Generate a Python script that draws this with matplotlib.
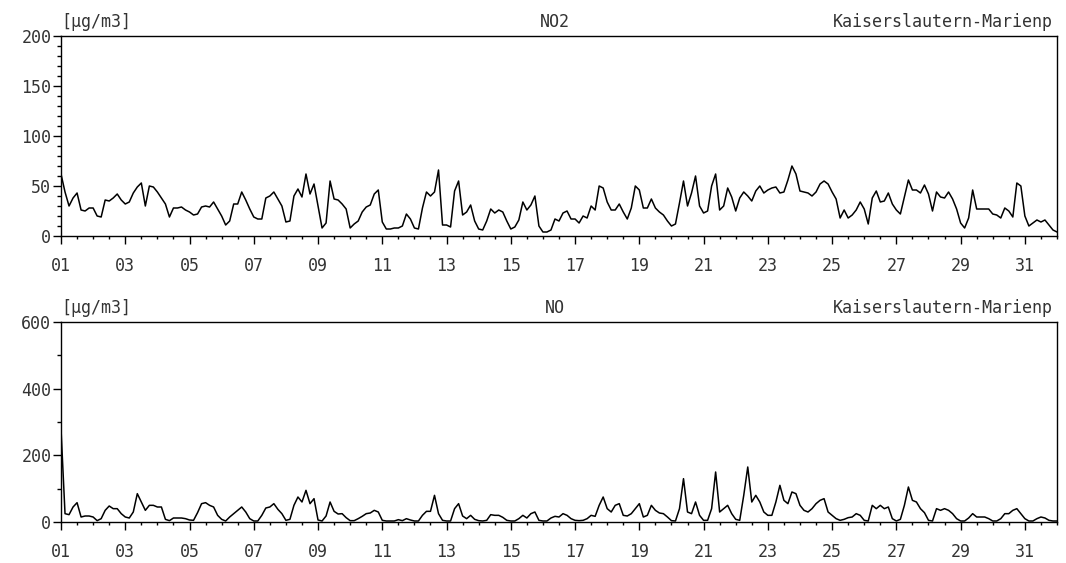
import matplotlib
matplotlib.use('Agg')
import matplotlib.pyplot as plt
from matplotlib.ticker import MultipleLocator, FixedLocator
import numpy as np

# 3-hourly values, one row per day (01..31) + end point
no2 = [
    62, 44, 30, 38, 43, 26, 25, 28,
    28, 20, 19, 36, 35, 38, 42, 36,
    32, 34, 43, 49, 53, 30, 50, 49,
    44, 38, 32, 19, 28, 28, 29, 26,
    24, 21, 22, 29, 30, 29, 34, 27,
    20, 11, 15, 32, 32, 44, 36, 27,
    19, 17, 17, 38, 40, 44, 37, 30,
    14, 15, 40, 47, 39, 62, 42, 52,
    30, 8, 13, 55, 37, 36, 32, 27,
    8, 12, 15, 24, 29, 31, 42, 46,
    14, 7, 7, 8, 8, 10, 22, 17,
    8, 7, 28, 44, 40, 44, 66, 11,
    11, 9, 45, 55, 21, 24, 31, 15,
    7, 6, 15, 27, 23, 26, 24, 15,
    7, 9, 16, 34, 26, 31, 40, 10,
    4, 4, 6, 17, 15, 23, 25, 17,
    17, 13, 20, 18, 30, 26, 50, 48,
    34, 26, 26, 32, 24, 17, 28, 50,
    46, 28, 28, 37, 28, 24, 21, 15,
    10, 12, 33, 55, 30, 43, 60, 30,
    23, 25, 50, 62, 26, 30, 48, 39,
    25, 38, 44, 40, 35, 45, 50, 43,
    46, 48, 49, 43, 44, 56, 70, 62,
    45, 44, 43, 40, 44, 52, 55, 52,
    44, 37, 18, 26, 18, 21, 26, 34,
    27, 12, 38, 45, 34, 35, 43, 32,
    26, 22, 39, 56, 46, 46, 43, 51,
    42, 25, 44, 39, 38, 44, 37, 27,
    13, 8, 18, 46, 27, 27, 27, 27,
    22, 21, 18, 28, 25, 19, 53, 50,
    20, 10, 13, 16, 14, 16, 11, 6,
    4,
]

no = [
    280, 25, 22, 45, 58, 15, 18, 18,
    15, 4, 10, 35, 48, 40, 40, 25,
    15, 12, 30, 85, 60, 35, 50, 50,
    45, 45, 8, 4, 12, 12, 12, 10,
    6, 5, 28, 55, 58, 50, 45, 20,
    8, 3, 15, 25, 35, 45, 30, 10,
    3, 3, 20, 42, 45, 55, 38, 25,
    5, 8, 50, 75, 60, 95, 55, 70,
    6, 3, 18, 60, 32, 24, 25, 13,
    4, 4, 10, 17, 25, 27, 35, 30,
    5, 3, 3, 3, 7, 4, 10, 6,
    3, 3, 20, 32, 32, 80, 25, 5,
    3, 3, 40, 55, 18, 10, 20, 8,
    4, 3, 5, 22, 20, 20, 14, 5,
    3, 3, 10, 20, 12, 25, 30, 5,
    3, 3, 12, 17, 15, 25, 20, 10,
    5, 4, 5, 10, 20, 17, 50, 75,
    40, 30, 50, 55, 20, 18, 25, 40,
    55, 15, 20, 50, 35, 27, 25, 15,
    4, 3, 40, 130, 30, 25, 60, 20,
    5, 5, 40, 150, 30, 40, 50, 25,
    8, 5, 80, 165, 60, 80, 60, 30,
    20, 20, 60, 110, 65, 55, 90, 85,
    50, 35, 30, 40, 55, 65, 70, 30,
    20, 10, 5, 8, 13, 15, 25, 20,
    5, 3, 50, 40, 50, 40, 45, 10,
    3, 8, 50, 105, 65, 60, 40, 28,
    5, 3, 40, 35, 40, 35, 25, 10,
    3, 3, 12, 25, 15, 15, 15, 10,
    3, 3, 10, 25, 25, 35, 40, 25,
    10, 3, 3, 10, 15, 12, 5, 3,
    3,
]

days = 1 + np.arange(len(no2)) / 8.0
day_ticks = list(range(1, 32, 2))
day_labels = ['%02d' % d for d in day_ticks]
station = 'Kaiserslautern-Marienp'
unit = '[µg/m3]'

FONT = 'DejaVu Sans Mono'
FS = 12

W, H = 1066, 563
fig = plt.figure(figsize=(W / 100, H / 100), dpi=100)


def px_axes(left, top, right, bottom):
    return fig.add_axes([left / W, 1 - bottom / H, (right - left) / W, (bottom - top) / H])


def style(ax, values, ymax, ymajor, yminor, title):
    ax.plot(days, values, color='black', lw=1.1)
    ax.set_xlim(1, 32)
    ax.set_ylim(0, ymax)
    ax.xaxis.set_major_locator(FixedLocator(day_ticks))
    ax.set_xticklabels(day_labels)
    ax.xaxis.set_minor_locator(MultipleLocator(0.5))
    ax.yaxis.set_major_locator(MultipleLocator(ymajor))
    ax.yaxis.set_minor_locator(MultipleLocator(yminor))
    ax.tick_params(axis='x', which='major', direction='out', length=6, width=1,
                   pad=9, labelsize=FS)
    ax.tick_params(axis='x', which='minor', direction='out', length=2.5, width=1)
    ax.tick_params(axis='y', which='major', direction='out', length=6, width=1,
                   pad=1, labelsize=FS)
    ax.tick_params(axis='y', which='minor', direction='out', length=3, width=1)
    for lab in ax.get_xticklabels() + ax.get_yticklabels():
        lab.set_fontfamily(FONT)
        lab.set_color('#333333')
    for s in ax.spines.values():
        s.set_linewidth(1.0)
    kw = dict(xycoords='axes fraction', textcoords='offset pixels', va='bottom',
              fontsize=FS, family=FONT, color='#333333')
    ax.annotate(unit, xy=(0, 1), xytext=(0, 5), ha='left', **kw)
    ax.annotate(title, xy=(0.496, 1), xytext=(0, 5), ha='center', **kw)
    ax.annotate(station, xy=(1, 1), xytext=(-4, 5), ha='right', **kw)


ax1 = px_axes(61, 36, 1057, 236)
ax2 = px_axes(61, 322, 1057, 522)
style(ax1, no2, 200, 50, 10, 'NO2')
style(ax2, no, 600, 200, 100, 'NO')

fig.savefig('out.png', dpi=100)
